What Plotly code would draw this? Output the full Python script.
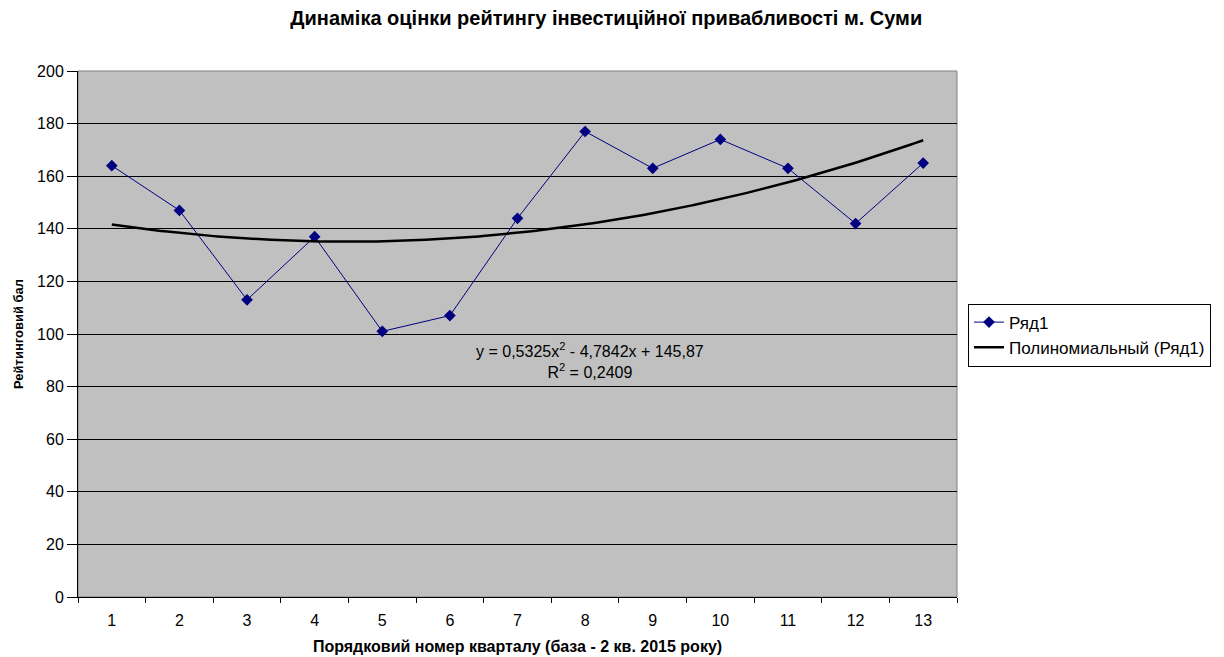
import numpy as np
import plotly.graph_objects as go

quarters = list(range(1, 14))
rating = [164, 147, 113, 137, 101, 107, 144, 177, 163, 174, 163, 142, 165]
y_ticks = [0, 20, 40, 60, 80, 100, 120, 140, 160, 180, 200]

coef = np.polyfit(quarters, rating, 2)
xt = np.linspace(1, 13, 200)
yt = np.polyval(coef, xt)

fig = go.Figure()
fig.add_trace(go.Scatter(
    x=quarters, y=rating, mode="lines+markers", name="Ряд1",
    line=dict(color="#000080", width=1),
    marker=dict(symbol="diamond", size=9, color="#000080"),
))
fig.add_trace(go.Scatter(
    x=xt, y=yt, mode="lines", name="Полиномиальный (Ряд1)",
    line=dict(color="#000000", width=2.5),
))

fig.add_annotation(
    x=8.07, y=90, xref="x", yref="y",
    text="y = 0,5325x<sup>2</sup> - 4,7842x + 145,87<br>R<sup>2</sup> = 0,2409",
    showarrow=False, font=dict(size=16, color="#000000"), align="center",
)

fig.update_layout(
    width=1216, height=649,
    paper_bgcolor="white", plot_bgcolor="#c0c0c0",
    font=dict(family="Liberation Sans, Arial, sans-serif", color="#000000", size=15),
    margin=dict(l=70, r=267, t=63, b=60, autoexpand=False),
    title=dict(text="<b>Динаміка оцінки рейтингу інвестиційної привабливості м. Суми</b>",
               x=0.492, xanchor="center", y=0.985, yanchor="middle", font=dict(size=20)),
    showlegend=True,
    legend=dict(x=1.0125, xanchor="left", y=0.498, yanchor="middle",
                bordercolor="#000000", borderwidth=1, bgcolor="white",
                font=dict(size=17), tracegroupgap=0),
)

fig.update_xaxes(
    automargin=False,
    range=[0.5, 13.5], tickvals=quarters, ticktext=[str(q) for q in quarters],
    ticks="outside", ticklen=9, tickcolor="rgba(0,0,0,0)",
    showgrid=False, zeroline=False,
    showline=True, linecolor="#000000", linewidth=1, mirror=False,
    minor=dict(tickvals=[q - 0.5 for q in quarters] + [13.5], ticks="outside",
               ticklen=5, tickcolor="#000000", showgrid=False),
    title=dict(text="<b>Порядковий номер кварталу (база - 2 кв. 2015 року)</b>",
               font=dict(size=16), standoff=12),
    tickfont=dict(size=16),
)
fig.update_yaxes(
    automargin=False,
    range=[0, 200], tickvals=y_ticks, ticks="outside", ticklen=10, tickcolor="#000000",
    showgrid=True, gridcolor="#000000", gridwidth=1, zeroline=False,
    showline=True, linecolor="#000000", linewidth=1,
    title=dict(text="<b>Рейтинговий бал</b>", font=dict(size=13), standoff=10),
    tickfont=dict(size=16),
)

fig.add_shape(type="rect", xref="paper", yref="paper", x0=0, y0=0, x1=1, y1=1,
              line=dict(color="#808080", width=1), layer="below")

fig.write_html("out.html")
